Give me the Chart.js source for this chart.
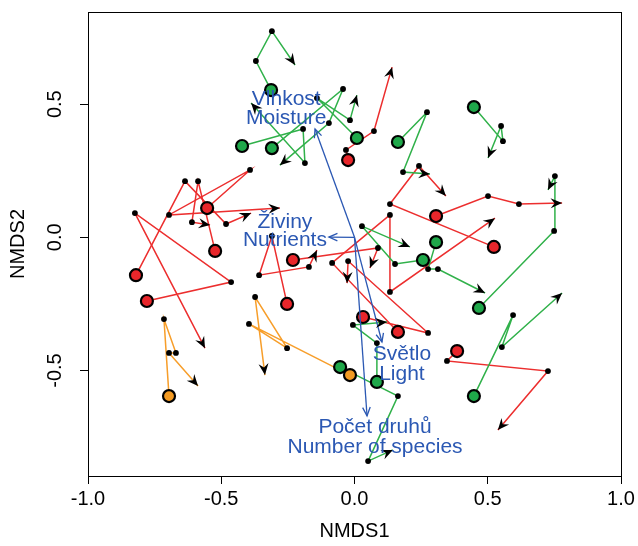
<!DOCTYPE html>
<html lang="cs">
<head>
<meta charset="UTF-8">
<title>NMDS</title>
<script src="https://cdn.jsdelivr.net/npm/chart.js"></script>
<style>
    body { margin: 0; background: #fff; }
    #wrap { width: 638px; height: 546px; }
</style>
</head>
<body>
<div id="wrap"><canvas id="nmdsChart" width="638" height="546"></canvas></div>
<script>
// Trajektorie: start (kruh), mezilehle body, konec (sipka)
const trajGroup = ['green','green','green','green','red','green','red','red','green','green','green','green','red',
                   'green','red','red','red','red','green','green','orange','orange','red','red','red','red'];
const trajX = [
    [-0.313,-0.370,-0.310,-0.223],
    [-0.422,-0.193,-0.186,-0.388],
    [-0.310,-0.043,-0.096,-0.280],
    [0.009,-0.141,-0.017,0.009],
    [-0.024,-0.032,0.073,0.141],
    [0.163,0.272,0.182,0.283],
    [0.523,0.133,0.242,0.343],
    [0.306,0.501,0.617,0.779],
    [0.257,0.152,0.028,0.208],
    [0.306,0.276,0.313,0.490],
    [0.467,0.749,0.752,0.726],
    [0.448,0.595,0.553,0.779],
    [0.385,0.347,0.726,0.538],
    [0.448,0.557,0.550,0.501],
    [-0.779,-0.463,-0.824,-0.561],
    [-0.820,-0.636,-0.482,-0.388],
    [-0.553,-0.392,-0.696,-0.280],
    [-0.523,-0.587,-0.610,-0.542],
    [0.084,0.084,-0.006,0.122],
    [-0.054,0.163,0.051,0.144],
    [-0.696,-0.715,-0.670,-0.696,-0.587],
    [-0.017,-0.396,-0.253,-0.373,-0.336],
    [-0.231,0.088,0.058],
    [-0.253,-0.310,-0.358,-0.171,-0.141],
    [0.032,0.276,-0.024,-0.028],
    [0.163,-0.084,0.133,0.133,0.527]
];
const trajY = [
    [0.553,0.662,0.774,0.647],
    [0.343,0.407,0.279,0.504],
    [0.335,0.557,0.429,0.271],
    [0.373,0.523,0.440,0.534],
    [0.290,0.328,0.399,0.639],
    [0.358,0.470,0.245,0.238],
    [-0.036,0.125,0.268,0.155],
    [0.080,0.155,0.125,0.129],
    [-0.085,-0.100,0.042,-0.036],
    [-0.018,-0.119,-0.119,-0.209],
    [-0.265,0.024,0.230,0.178],
    [-0.596,-0.292,-0.412,-0.209],
    [-0.427,-0.464,-0.502,-0.723],
    [0.489,0.361,0.418,0.298],
    [-0.239,-0.168,0.091,-0.416],
    [-0.142,0.211,0.050,0.091],
    [0.110,0.253,0.084,0.110],
    [-0.051,0.211,0.057,0.046],
    [-0.543,-0.397,-0.329,-0.318],
    [-0.487,-0.596,-0.840,-0.798],
    [-0.596,-0.307,-0.434,-0.434,-0.558],
    [-0.517,-0.325,-0.416,-0.224,-0.517],
    [-0.085,-0.040,-0.115],
    [-0.250,0.005,-0.142,-0.111,-0.048],
    [-0.299,-0.359,-0.089,-0.172],
    [-0.355,-0.096,0.084,-0.205,0.072]
];

// Vektory prostredi (envfit)
const vectorNames = [['Vlhkost','Moisture'], ['Živiny','Nutrients'], ['Světlo','Light'], ['Počet druhů','Number of species']];
const vectorX = [-0.148, -0.096, 0.103, 0.047];
const vectorY = [0.407, 0.001, -0.393, -0.670];
const labelX = [-0.256, -0.261, 0.178, 0.077];
const labelY = [[0.497, 0.425], [0.035, -0.033], [-0.461, -0.536], [-0.735, -0.810]];

const xTicks = [-1.0, -0.5, 0.0, 0.5, 1.0];
const yTicks = [-0.5, 0.0, 0.5];

const fillColor = { red: '#e8262b', green: '#1fa84a', orange: '#f39a22' };
const lineColor = { red: '#ec2e2e', green: '#30b14a', orange: '#f79e2a' };
const blue = '#2b58b3';

Chart.defaults.font.family = '"Liberation Sans", Arial, sans-serif';

const datasets = [];

// starty - velke kruhy
['red', 'green', 'orange'].forEach(g => {
    const pts = [];
    trajGroup.forEach((grp, i) => {
        if (grp === g) pts.push({ x: trajX[i][0], y: trajY[i][0] });
    });
    datasets.push({
        data: pts, pointRadius: 6, pointBorderWidth: 2.2,
        pointBorderColor: '#000', pointBackgroundColor: fillColor[g], order: 1
    });
});

// mezilehle body
const mid = [];
trajX.forEach((xs, i) => {
    for (let j = 1; j < xs.length - 1; j++) mid.push({ x: xs[j], y: trajY[i][j] });
});
datasets.push({ data: mid, pointRadius: 2.9, pointBorderWidth: 0, pointBackgroundColor: '#000', order: 2 });

// cary trajektorii
trajX.forEach((xs, i) => {
    datasets.push({
        data: xs.map((x, j) => ({ x: x, y: trajY[i][j] })),
        showLine: true, borderColor: lineColor[trajGroup[i]], borderWidth: 1.5,
        pointRadius: 0, order: 3, arrowKind: 'traj'
    });
});

// vektory
vectorX.forEach((vx, i) => {
    datasets.push({
        data: [{ x: 0, y: 0 }, { x: vx, y: vectorY[i] }],
        showLine: true, borderColor: blue, borderWidth: 1.3,
        pointRadius: 0, order: 0, arrowKind: 'vector'
    });
});

function drawHead(ctx, from, to, kind) {
    const a = Math.atan2(to.y - from.y, to.x - from.x);
    ctx.save();
    ctx.translate(to.x, to.y);
    ctx.rotate(a);
    ctx.beginPath();
    if (kind === 'traj') {
        ctx.moveTo(0, 0);
        ctx.lineTo(-11.5, -5);
        ctx.lineTo(-7.5, 0);
        ctx.lineTo(-11.5, 5);
        ctx.closePath();
        ctx.fillStyle = '#000';
        ctx.fill();
    } else {
        ctx.moveTo(-8.5, -3.8);
        ctx.lineTo(0, 0);
        ctx.lineTo(-8.5, 3.8);
        ctx.strokeStyle = blue;
        ctx.lineWidth = 1.3;
        ctx.stroke();
    }
    ctx.restore();
}

const extras = {
    id: 'extras',
    afterDatasetsDraw(chart) {
        const ctx = chart.ctx;
        chart.data.datasets.forEach((ds, i) => {
            if (!ds.arrowKind) return;
            const pts = chart.getDatasetMeta(i).data;
            const n = pts.length;
            drawHead(ctx, pts[n - 2], pts[n - 1], ds.arrowKind);
        });
        // popisky vektoru
        const sx = chart.scales.x, sy = chart.scales.y;
        ctx.save();
        ctx.font = '21px "Liberation Sans", Arial, sans-serif';
        ctx.fillStyle = blue;
        ctx.textAlign = 'center';
        ctx.textBaseline = 'alphabetic';
        vectorNames.forEach((lines, i) => {
            lines.forEach((t, k) => {
                ctx.fillText(t, sx.getPixelForValue(labelX[i]), sy.getPixelForValue(labelY[i][k]));
            });
        });
        ctx.restore();
    },
    afterDraw(chart) {
        const ctx = chart.ctx, area = chart.chartArea, sy = chart.scales.y;
        ctx.save();
        ctx.strokeStyle = '#000';
        ctx.lineWidth = 1;
        ctx.strokeRect(area.left + 0.5, area.top + 0.5, area.right - area.left, area.bottom - area.top);
        // popisky osy y (otocene jako v R)
        ctx.font = '20px "Liberation Sans", Arial, sans-serif';
        ctx.fillStyle = '#000';
        ctx.textAlign = 'center';
        ctx.textBaseline = 'middle';
        sy.ticks.forEach(t => {
            ctx.save();
            ctx.translate(55, sy.getPixelForValue(t.value));
            ctx.rotate(-Math.PI / 2);
            ctx.fillText(t.value.toFixed(1), 0, 0);
            ctx.restore();
        });
        ctx.restore();
    }
};

new Chart(document.getElementById('nmdsChart'), {
    type: 'scatter',
    data: { datasets: datasets },
    options: {
        responsive: false,
        animation: false,
        layout: { padding: { top: 12, right: 17, left: 0, bottom: 0 } },
        plugins: { legend: { display: false }, tooltip: { enabled: false } },
        scales: {
            x: {
                type: 'linear', min: -1.0, max: 1.0,
                afterFit: s => { s.height = 70; },
                afterBuildTicks: s => { s.ticks = xTicks.map(v => ({ value: v })); },
                grid: { drawOnChartArea: false, drawTicks: true, tickLength: 8, color: '#000' },
                border: { display: true, color: '#000' },
                ticks: {
                    color: '#000', font: { size: 20 }, padding: 3, maxRotation: 0, autoSkip: false,
                    callback: v => Number(v).toFixed(1)
                },
                title: { display: true, text: 'NMDS1', color: '#000', font: { size: 20 }, padding: { top: 0, bottom: 3 } }
            },
            y: {
                type: 'linear', min: -0.896, max: 0.846,
                afterFit: s => { s.width = 88; },
                afterBuildTicks: s => { s.ticks = yTicks.map(v => ({ value: v })); },
                grid: { drawOnChartArea: false, drawTicks: true, tickLength: 8, color: '#000' },
                border: { display: true, color: '#000' },
                ticks: { display: false },
                title: { display: true, text: 'NMDS2', color: '#000', font: { size: 20 }, padding: { top: 6, bottom: 0 } }
            }
        }
    },
    plugins: [extras]
});
</script>
</body>
</html>
